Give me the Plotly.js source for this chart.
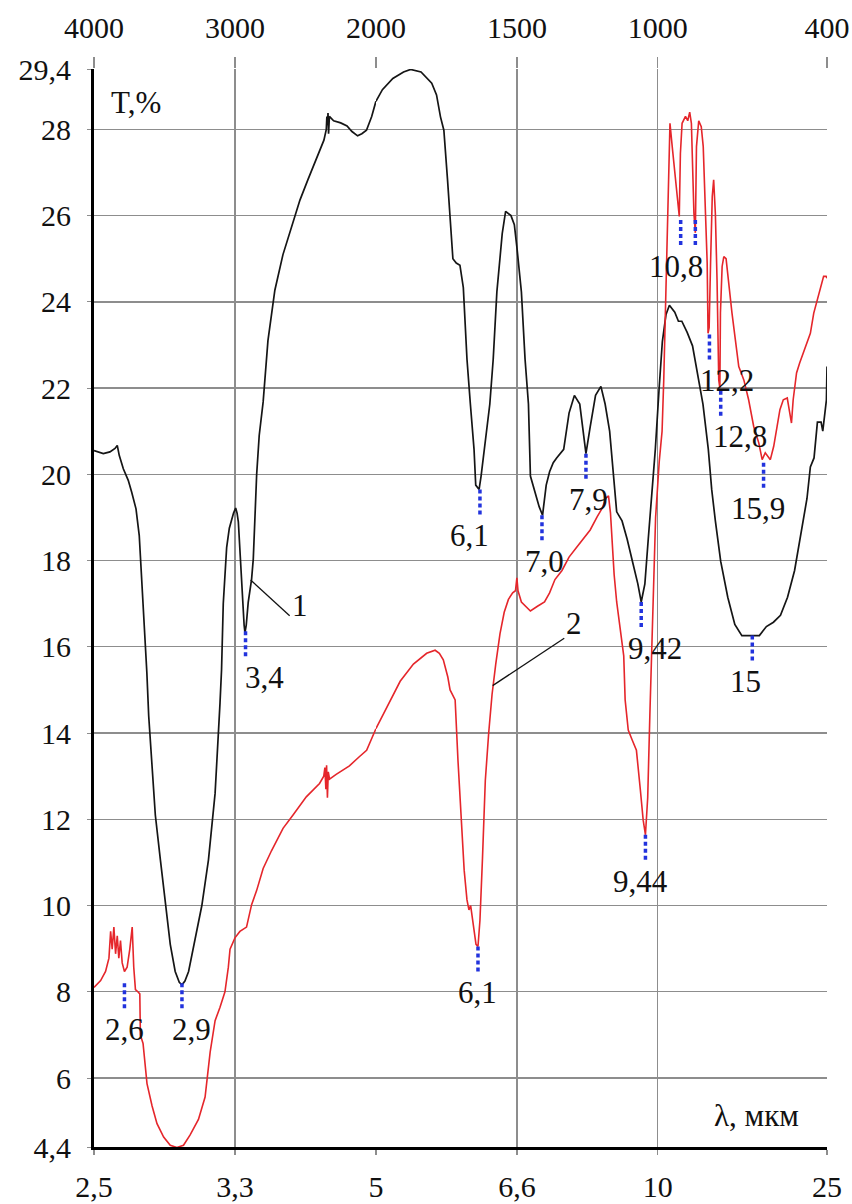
<!DOCTYPE html>
<html><head><meta charset="utf-8">
<script src="https://cdn.plot.ly/plotly-3.0.1.min.js"></script>
<style>html,body{margin:0;padding:0;background:#fff}#chart{width:852px;height:1204px}</style>
</head><body><div id="chart"></div>
<script>
// ---------- data (wavenumber, cm-1  /  transmittance T, %) ----------
const curve1Wn = [4000,3960,3934,3887,3851,3835,3821,3792,3757,3733,3702,3679,3669,3660,3650,3640,3625,3612,3588,3565,3529,3494,3459,3424,3395,3376,3355,3329,3282,3235,3188,3141,3106,3095,3083,3070,3059,3040,3024,3010,2995,2985,2976,2965,2955,2946,2935,2929,2920,2906,2882,2870,2858,2846,2828,2800,2766,2717,2660,2596,2539,2483,2433,2398,2369,2352,2348,2343,2340,2336,2330,2300,2250,2205,2170,2130,2100,2067,2030,2000,
  1977,1940,1902,1877,1840,1802,1785,1771,1759,1746,1734,1727,1715,1702,1690,1677,1665,1652,1646,1634,1627,1615,1596,1584,1571,1552,1540,1521,1509,1500,1484,1471,1459,1452,1434,1421,1409,1396,1384,1371,1359,1334,1315,1296,1277,1259,1255,1240,1221,1202,1187,1171,1159,1146,1127,1109,1090,1071,1059,1046,1034,1021,1009,996,984,971,959,940,927,915,896,877,859,840,821,809,796,777,752,727,702,665,640,615,590,565,540,515,490,471,459,446,434,421,415,402,400];
const curve1T = [20.55,20.5,20.48,20.52,20.6,20.67,20.44,20.13,19.86,19.59,19.2,18.58,18.04,17.3,16.9,16.3,15.4,14.4,13.1,12.1,11.06,10.0,9.1,8.47,8.22,8.16,8.25,8.47,9.2,10.0,11.06,12.6,14.7,15.48,17.0,17.9,18.3,18.75,18.95,19.1,19.22,19.1,18.9,18.2,17.5,17.03,16.5,16.33,16.5,17.03,17.57,18.04,18.97,20.0,20.9,21.68,23.1,24.27,25.09,25.78,26.36,26.83,27.24,27.52,27.75,28.0,28.3,28.1,28.38,27.9,28.3,28.2,28.15,28.08,27.95,27.85,27.9,27.98,28.3,28.65,
  28.92,29.18,29.33,29.39,29.33,29.07,28.8,28.29,27.98,26.83,25.8,25.0,24.9,24.85,24.33,22.67,21.63,20.58,19.75,19.65,19.96,20.58,21.63,22.67,24.23,25.58,26.1,26.0,25.79,25.27,24.23,22.67,21.63,19.96,19.54,19.25,19.05,19.75,20.06,20.27,20.38,20.58,21.42,21.83,21.63,20.58,20.48,21.1,21.83,22.04,21.63,21.0,20.17,19.13,18.92,18.5,17.98,17.46,17.04,17.46,18.5,19.54,20.58,21.94,23.08,23.71,23.92,23.76,23.55,23.55,23.29,22.98,22.35,21.63,20.58,19.65,18.92,17.98,17.15,16.52,16.26,16.26,16.26,16.47,16.57,16.73,17.15,17.77,18.71,19.44,20.17,20.38,21.21,21.21,21.0,21.73,22.5];

const curve2Wn = [4000,3953,3918,3894,3882,3871,3859,3847,3835,3824,3812,3800,3784,3765,3746,3729,3718,3706,3689,3675,3671,3652,3624,3588,3553,3506,3459,3412,3365,3318,3259,3212,3176,3141,3106,3071,3047,3035,3000,2965,2918,2882,2847,2800,2741,2659,2588,2494,2400,2370,2362,2355,2350,2344,2338,2329,2282,2188,2118,2066,2000,
  1961,1914,1867,1820,1790,1775,1761,1745,1737,1719,1709,1698,1687,1677,1670,1664,1655,1645,1638,1631,1622,1612,1600,1588,1575,1560,1545,1530,1515,1505,1500,1496,1484,1452,1427,1402,1384,1365,1340,1315,1290,1265,1240,1215,1196,1184,1175,1168,1162,1155,1146,1134,1121,1116,1105,1091,1076,1062,1052,1044,1036,1028,1018,1008,995,985,979,973,965,957,949,937,929,924,920,914,902,894,887,881,872,867,863,855,846,839,831,825,822,818,813,807,802,796,790,784,780,778,772,766,758,748,737,725,713,695,678,660,642,630,619,601,589,577,567,555,541,532,526,520,508,497,477,459,447,435,424,412,403,400];
const curve2T = [8.1,8.26,8.47,8.78,9.4,8.99,9.5,8.88,9.3,8.78,9.19,8.67,8.47,8.57,8.99,9.5,8.57,8.05,8.0,7.95,7.0,6.8,5.87,5.35,4.94,4.63,4.44,4.39,4.44,4.68,5.04,5.56,6.6,7.33,7.64,8.0,8.57,8.99,9.25,9.4,9.5,10.02,10.34,10.86,11.27,11.79,12.1,12.52,12.83,13.0,13.2,12.7,13.25,12.5,13.1,12.93,13.04,13.24,13.45,13.6,14.1,
  14.6,15.2,15.6,15.85,15.92,15.85,15.7,15.3,15.0,14.77,13.37,11.98,10.82,10.13,9.9,10.0,9.6,9.1,9.05,9.66,11.1,12.9,14.0,14.9,15.6,16.3,16.8,17.1,17.25,17.3,17.6,17.3,17.04,16.83,16.94,17.04,17.25,17.56,17.77,18.08,18.29,18.5,18.71,19.02,19.23,19.45,19.5,19.1,18.5,17.67,17.04,16.42,15.79,14.77,14.07,13.84,13.6,12.68,11.98,11.64,12.5,14.5,17.0,19.0,20.3,21.0,22.2,23.7,26.0,28.14,27.6,26.83,26.2,25.98,27.44,28.14,28.3,28.2,28.4,28.14,26.05,25.6,27.6,28.2,28.06,27.6,26.05,24.9,23.27,23.4,24.9,26.44,26.83,26.05,24.5,22.19,22.0,23.74,24.82,25.05,25.0,24.36,23.74,23.12,22.5,22.19,21.73,21.11,20.73,20.34,20.5,20.34,20.65,21.11,21.5,21.73,21.77,21.42,21.19,21.73,22.35,22.58,22.97,23.27,23.74,24.05,24.28,24.59,24.59,24.55];

// absorption band marks (band minima) and their wavelength labels, μm
const peakLabels = ['2,6','2,9','3,4','6,1','7,0','7,9','9,42','15','6,1','9,44','','10,8','12,2','12,8','15,9'];
const peakWn     = [3784,3376,2925,1631,1411,1255,1059,665,1638,1044,919,867,817,777,625];
const peakT      = [8.2,8.2,16.36,19.65,19.05,20.48,17.04,16.26,9.05,11.64,25.9,25.9,23.24,21.94,20.27];

// axis ticks
const xTickWn        = [4000,3000,2000,1500,1000,400];
const xTopTickText   = ['4000','3000','2000','1500','1000','400'];
const xBottomTickText= ['2,5','3,3','5','6,6','10','25'];
const yTickVals      = [4.4,6,8,10,12,14,16,18,20,22,24,26,28,29.4];
const yTickText      = ['4,4','6','8','10','12','14','16','18','20','22','24','26','28','29,4'];

// curve numbers with leader lines
const curveNames   = ['1','2'];
const leaderWn     = [[2889,2612],[1586,1332]];
const leaderT      = [[17.55,16.72],[15.1,16.2]];
const curveNameWn  = [2540,1298];
const curveNameT   = [16.95,16.55];

// ---------- build ----------
const SPLIT = 2000;           // scale change of the spectrometer chart
const FONT = 'Liberation Serif, Times New Roman, serif';
const markLen = 0.62;
const labelDx = [0,10,19,-10,3,3,14,-7,0,-5,0,-19,18,19,-6];

function part(wn, t, left){
  const xs=[], ys=[];
  wn.forEach((w,i)=>{ if(left ? w>=SPLIT : w<=SPLIT){ xs.push(w); ys.push(t[i]); } });
  return {xs, ys};
}
const traces = [];
[[curve1Wn,curve1T,{color:'#151515',width:1.7}],[curve2Wn,curve2T,{color:'#e5262b',width:1.6}]].forEach(([wn,t,line])=>{
  [true,false].forEach(left=>{
    const p = part(wn,t,left);
    traces.push({x:p.xs,y:p.ys,xaxis:left?'x':'x2',yaxis:'y',mode:'lines',line:line,hoverinfo:'skip'});
  });
});
// band marks
[true,false].forEach(left=>{
  const xs=[], ys=[];
  peakWn.forEach((w,i)=>{ if((w>=SPLIT)===left){ xs.push(w,w,null); ys.push(peakT[i],peakT[i]-markLen,null); } });
  traces.push({x:xs,y:ys,xaxis:left?'x':'x2',yaxis:'y',mode:'lines',
    line:{color:'#2233dd',width:3.5,dash:'4px,3px'},hoverinfo:'skip'});
});
// leader lines
curveNames.forEach((n,i)=>{
  const left = leaderWn[i][0]>=SPLIT;
  traces.push({x:leaderWn[i],y:leaderT[i],xaxis:left?'x':'x2',yaxis:'y',mode:'lines',
    line:{color:'#111',width:1.3},hoverinfo:'skip'});
});
// dummy traces to materialise the top axes
traces.push({x:[4000],y:[null],xaxis:'x3',yaxis:'y',mode:'lines',hoverinfo:'skip'});
traces.push({x:[1000],y:[null],xaxis:'x4',yaxis:'y',mode:'lines',hoverinfo:'skip'});

const annotations = [];
peakLabels.forEach((lab,i)=>{
  if(!lab) return;
  annotations.push({text:lab,x:peakWn[i],y:peakT[i]-markLen,xref:peakWn[i]>=SPLIT?'x':'x2',yref:'y',
    xanchor:'center',yanchor:'top',showarrow:false,xshift:labelDx[i],yshift:0,
    font:{family:FONT,size:31,color:'#111'}});
});
curveNames.forEach((n,i)=>{
  annotations.push({text:n,x:curveNameWn[i],y:curveNameT[i],xref:curveNameWn[i]>=SPLIT?'x':'x2',yref:'y',
    showarrow:false,font:{family:FONT,size:31,color:'#111'}});
});
annotations.push({text:'T,%',x:3700,y:28.62,xref:'x',yref:'y',showarrow:false,font:{family:FONT,size:31,color:'#111'}});
annotations.push({text:'λ, мкм',x:650,y:5.12,xref:'x2',yref:'y',showarrow:false,font:{family:FONT,size:31,color:'#111'}});

const dA = 2000/(2000+2*(2000-400));
const leftTicks  = xTickWn.map((w,i)=>i).filter(i=>xTickWn[i]>=SPLIT);
const rightTicks = xTickWn.map((w,i)=>i).filter(i=>xTickWn[i]<SPLIT);
const grid = '#8d8d8d';
function bottomAxis(dom, range, idx){
  return {domain:dom,range:range,autorange:false,anchor:'y',
    tickmode:'array',tickvals:idx.map(i=>xTickWn[i]),ticktext:idx.map(i=>xBottomTickText[i]),
    showgrid:true,gridcolor:grid,gridwidth:1.3,showline:true,linecolor:'#000',linewidth:3,
    ticks:'outside',ticklen:5,tickcolor:grid,tickwidth:1.3,ticklabelstandoff:6,
    zeroline:false,tickfont:{family:FONT,size:30,color:'#111'},fixedrange:true};
}
function topAxis(over, dom, range, idx){
  return {overlaying:over,side:'top',domain:dom,range:range,autorange:false,anchor:'y',
    tickmode:'array',tickvals:idx.map(i=>xTickWn[i]),ticktext:idx.map(i=>xTopTickText[i]),
    showgrid:false,showline:false,ticks:'outside',ticklen:11,tickcolor:grid,tickwidth:1.3,
    ticklabelstandoff:7,zeroline:false,tickfont:{family:FONT,size:30,color:'#111'},fixedrange:true};
}
const layout = {
  width:852,height:1204,margin:{l:94,r:25,t:69,b:57},
  paper_bgcolor:'#fff',plot_bgcolor:'#fff',showlegend:false,
  xaxis: bottomAxis([0,dA],[4000,SPLIT],leftTicks),
  xaxis2: bottomAxis([dA,1],[SPLIT,400],rightTicks),
  xaxis3: topAxis('x',[0,dA],[4000,SPLIT],leftTicks),
  xaxis4: topAxis('x2',[dA,1],[SPLIT,400],rightTicks),
  yaxis:{domain:[0,1],range:[4.4,29.4],autorange:false,anchor:'x',
    tickmode:'array',tickvals:yTickVals,ticktext:yTickText,
    showgrid:true,gridcolor:grid,gridwidth:1.3,showline:true,linecolor:'#000',linewidth:3,
    ticks:'outside',ticklen:4,tickcolor:grid,ticklabelstandoff:10,zeroline:false,
    tickfont:{family:FONT,size:30,color:'#111'},fixedrange:true},
  annotations:annotations
};
Plotly.newPlot('chart',traces,layout,{staticPlot:true,displayModeBar:false});
</script>
</body></html>
